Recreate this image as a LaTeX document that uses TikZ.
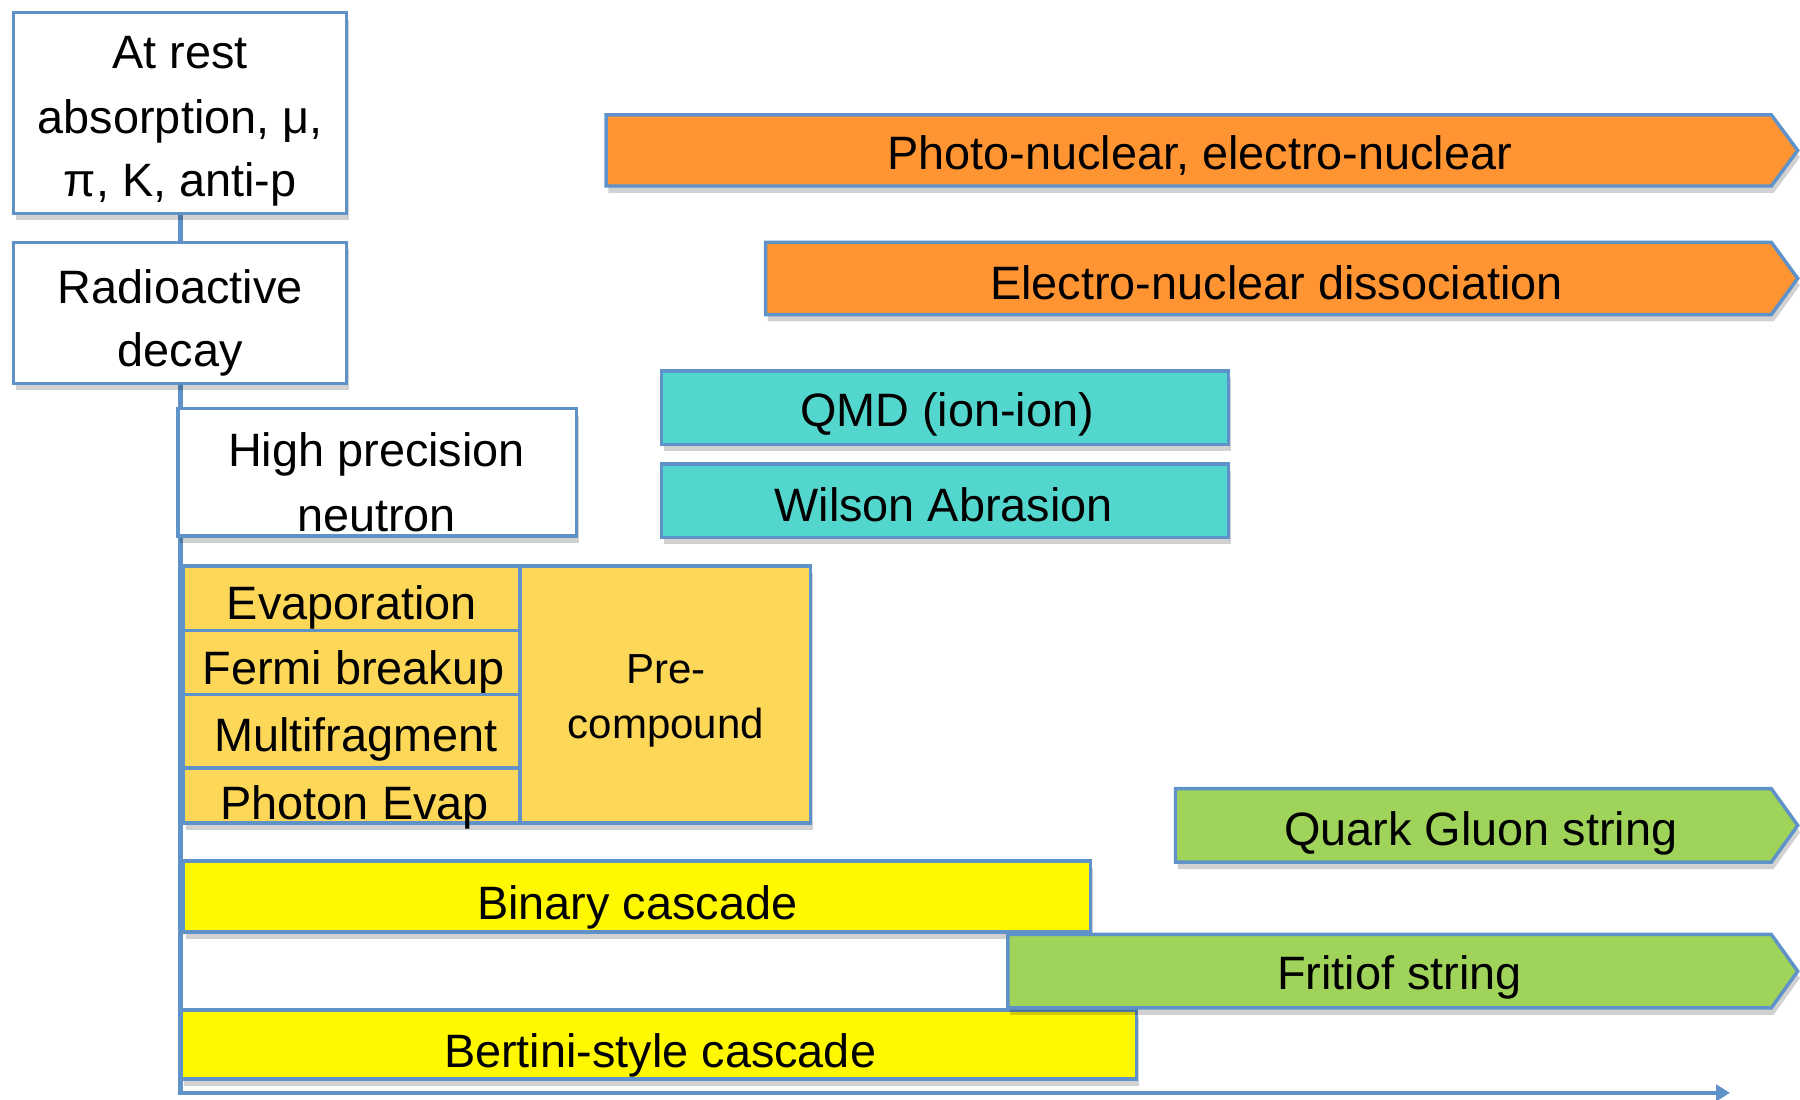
\documentclass[tikz,border=0pt]{standalone}
\usepackage{fontspec}
\setmainfont{Liberation Sans}
\usetikzlibrary{fit,shadows,arrows.meta,backgrounds}
\definecolor{bordc}{RGB}{94,146,200}
\definecolor{orangec}{RGB}{255,148,51}
\definecolor{tealc}{RGB}{83,214,205}
\definecolor{greenc}{RGB}{159,211,90}
\definecolor{yellowc}{RGB}{255,248,0}
\definecolor{goldc}{RGB}{253,215,88}
\newcommand{\sigbar}[4]{%
  \fill[black,opacity=0.18,xshift=1pt,yshift=-3pt] (#1,#2) -- (1543,#2) -- (1566,{(#2+#3)/2}) -- (1543,#3) -- (#1,#3) -- cycle;
  \filldraw[bar,fill=#4] (#1,#2) -- (1543,#2) -- (1566,{(#2+#3)/2}) -- (1543,#3) -- (#1,#3) -- cycle;}
\begin{document}
\begin{tikzpicture}[x=0.5pt,y=-0.5pt,
  box/.style={inner sep=0pt, draw=bordc, line width=1.5pt,
    drop shadow={shadow xshift=1pt, shadow yshift=-3pt, opacity=0.18, fill=black}},
  lbl/.style={inner sep=0pt, text=black, font=\fontsize{20.4pt}{28pt}\selectfont, text height=14.6pt, text depth=0pt},
  slbl/.style={inner sep=0pt, text=black, font=\fontsize{18.3pt}{24pt}\selectfont, text height=13.1pt, text depth=0pt},
  bar/.style={draw=bordc, line width=1.5pt, line join=miter},
  axisline/.style={draw=bordc, line width=2pt}]
\useasboundingbox (0,0) rectangle (1568,958);

% left stack
\node[box, fill=white, fit={(12,11)(302,186)}] (atrest) {};
\node[lbl] (atrestA) at (157,45) {At rest};
\node[lbl] (atrestB) at (157,102) {absorption, μ,};
\node[lbl] (atrestC) at (157,157) {π, K, anti-p};
\node[box, fill=white, fit={(12,211)(302,334)}] (radio) {};
\node[lbl] (radioA) at (157,250) {Radioactive};
\node[lbl] (radioB) at (157,305) {decay};
\node[box, fill=white, fit={(155,356)(502,467)}] (hpn) {};
\node[lbl] (hpnA) at (328,392) {High precision};
\node[lbl] (hpnB) at (328,448) {neutron};

% de-excitation group
\node[box, fill=goldc, fit={(453,493)(706,717)}] (precomp) {};
\node[slbl] (precompA) at (580,582) {Pre-};
\node[slbl] (precompB) at (580,630) {compound};
\node[box, fill=goldc, fit={(160,493)(453,549)}] (evap) {};
\node[lbl] at (evap.center) [yshift=-2pt] (evapT) {Evaporation};
\node[box, fill=goldc, fit={(160,549)(453,605)}] (fermi) {};
\node[lbl] (fermiT) at (308,582) {Fermi breakup};
\node[box, fill=goldc, fit={(160,605)(453,669)}] (multi) {};
\node[lbl] (multiT) at (310,640) {Multifragment};
\node[box, fill=goldc, fit={(160,669)(453,717)}] (photev) {};
\node[lbl] (photevT) at (309,699) {Photon Evap};

% ion models
\node[box, fill=tealc, fit={(576,323)(1070,387)}] (qmd) {};
\node[lbl] (qmdT) at (825,357) {QMD (ion-ion)};
\node[box, fill=tealc, fit={(576,404)(1070,468)}] (wilson) {};
\node[lbl] (wilsonT) at (822,440) {Wilson Abrasion};

% cascades
\node[box, fill=yellowc, fit={(160,750)(950,812)}] (binary) {};
\node[lbl] (binaryT) at (555,786) {Binary cascade};
\node[box, fill=yellowc, fit={(158,880)(990,940)}] (bertini) {};
\node[lbl] (bertiniT) at (575,915) {Bertini-style cascade};

% open-ended bars
\sigbar{528}{100}{162}{orangec}
\node[lbl] (photo) at (1045,133) {Photo-nuclear, electro-nuclear};
\sigbar{667}{211}{274}{orangec}
\node[lbl] (emd) at (1112,246) {Electro-nuclear dissociation};
\sigbar{1024}{687}{751}{greenc}
\node[lbl] (qgs) at (1290,722) {Quark Gluon string};
\sigbar{878}{814}{878}{greenc}
\node[lbl] (ftf) at (1219,847) {Fritiof string};

% axis / connectors
\coordinate (axend) at (1507,952);
\begin{pgfonlayer}{background}
\draw[axisline] (atrest.south) -- (radio.north);
\draw[axisline, -{Triangle[length=6pt,width=7pt]}] (radio.south) |- (axend);
\end{pgfonlayer}
\end{tikzpicture}
\end{document}
